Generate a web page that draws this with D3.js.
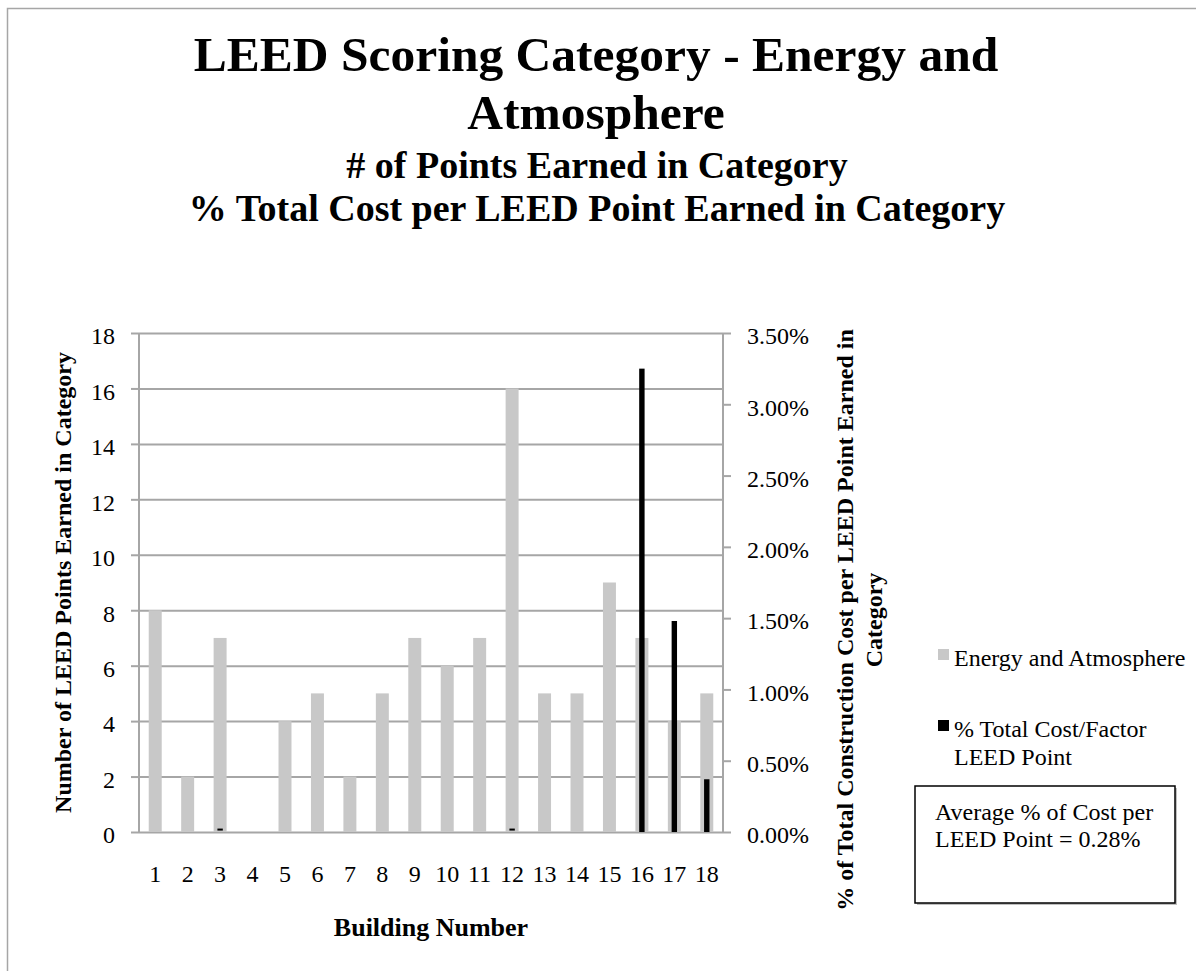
<!DOCTYPE html>
<meta charset="utf-8">

<style>
body { margin: 0; background: #fff; }
text { font-family: "Liberation Serif", "Times New Roman", serif; fill: #000; }
.grid line { stroke: #a6a6a6; stroke-width: 2px; }
.grid path { display: none; }
.axis path { display: none; }
.axis line { stroke: #a6a6a6; stroke-width: 2px; }
.axis text { font-size: 24px; }
.title { font-weight: bold; }
</style>

<body>
<svg width=1196 height=971></svg>
</body>

<script src="https://d3js.org/d3.v7.min.js"></script>
<script>
// building numbers along the x axis
const buildings = ["1","2","3","4","5","6","7","8","9","10","11","12","13","14","15","16","17","18"]
// LEED points earned in Energy and Atmosphere (left axis)
const points = [8, 2, 7, 0, 4, 5, 2, 5, 7, 6, 7, 16, 5, 5, 9, 7, 4, 5]
// % of total construction cost per LEED point (right axis)
const costPct = [0, 0, 0.0001, 0, 0, 0, 0, 0, 0, 0, 0, 0.0001, 0, 0, 0, 0.0325, 0.0148, 0.0037]
const leftTicks = [0, 2, 4, 6, 8, 10, 12, 14, 16, 18]
const rightTicks = [0, 0.005, 0.01, 0.015, 0.02, 0.025, 0.03, 0.035]
const titleLines = ["LEED Scoring Category - Energy and", "Atmosphere"]
const subtitleLines = ["# of Points Earned in Category", "% Total Cost per LEED Point Earned in Category"]
const legendItems = [["Energy and Atmosphere"], ["% Total Cost/Factor", "LEED Point"]]
const noteLines = ["Average % of Cost per", "LEED Point = 0.28%"]

const svg = d3.select("svg")
const plot = {left: 139, right: 723, top: 333, bottom: 832}

// outer chart frame
svg.append("rect")
  .attr("x", 7.5).attr("y", 8.5)
  .attr("width", 1300).attr("height", 1100)
  .attr("fill", "none").attr("stroke", "#a6a6a6").attr("stroke-width", 1.5)

const x = d3.scaleBand().domain(buildings).range([plot.left, plot.right])
const yL = d3.scaleLinear().domain([0, 18]).range([plot.bottom, plot.top])
const yR = d3.scaleLinear().domain([0, 0.035]).range([plot.bottom, plot.top])

// gridlines
svg.append("g")
  .attr("class", "grid")
  .attr("transform", `translate(${plot.left},0)`)
  .call(d3.axisLeft(yL).tickValues(leftTicks).tickSize(-(plot.right - plot.left)).tickFormat(""))

// axis lines
svg.append("line").attr("x1", plot.left).attr("x2", plot.left).attr("y1", plot.top).attr("y2", plot.bottom)
  .attr("stroke", "#a6a6a6").attr("stroke-width", 2)
svg.append("line").attr("x1", plot.right).attr("x2", plot.right).attr("y1", plot.top).attr("y2", plot.bottom)
  .attr("stroke", "#a6a6a6").attr("stroke-width", 2)

const axL = svg.append("g")
  .attr("class", "axis")
  .attr("transform", `translate(${plot.left},0)`)
  .call(d3.axisLeft(yL).tickValues(leftTicks).tickSize(8).tickPadding(16))
axL.selectAll("text").attr("dy", "0.45em")

const axR = svg.append("g")
  .attr("class", "axis")
  .attr("transform", `translate(${plot.right},0)`)
  .call(d3.axisRight(yR).tickValues(rightTicks).tickSize(8).tickPadding(16).tickFormat(d3.format(".2%")))
axR.selectAll("text").attr("dy", "0.45em")

const axB = svg.append("g")
  .attr("class", "axis")
  .attr("transform", `translate(0,${plot.bottom})`)
  .call(d3.axisBottom(x).tickSize(0).tickPadding(42))
axB.selectAll("text").attr("dy", "0.35em")

// grey bars (primary axis)
const bw = x.bandwidth()
svg.append("g").selectAll("rect")
  .data(points)
  .enter()
  .append("rect")
    .attr("x", (d, i) => x(buildings[i]) + bw / 2 - bw / 5)
    .attr("width", bw / 2.5)
    .attr("y", (d) => yL(d))
    .attr("height", (d) => yL(0) - yL(d))
    .attr("fill", "#c8c8c8")

// black bars (secondary axis)
svg.append("g").selectAll("rect")
  .data(costPct)
  .enter()
  .append("rect")
    .attr("x", (d, i) => x(buildings[i]) + bw / 2 - bw / 12)
    .attr("width", bw / 6)
    .attr("y", (d) => yR(d) - (d > 0 && d < 0.0005 ? 2 : 0))
    .attr("height", (d) => d > 0 && d < 0.0005 ? 2 : yR(0) - yR(d))
    .attr("fill", "#000")

// titles
svg.append("g").selectAll("text")
  .data(titleLines)
  .enter()
  .append("text")
    .attr("class", "title")
    .attr("x", 596)
    .attr("y", (d, i) => 71 + i * 58)
    .attr("text-anchor", "middle")
    .attr("font-size", 49.5)
    .text((d) => d)

svg.append("g").selectAll("text")
  .data(subtitleLines)
  .enter()
  .append("text")
    .attr("class", "title")
    .attr("x", 597)
    .attr("y", (d, i) => 178 + i * 43)
    .attr("text-anchor", "middle")
    .attr("font-size", 38)
    .text((d) => d)

// axis titles
svg.append("text")
  .attr("class", "title")
  .attr("transform", `translate(71,${(plot.top + plot.bottom) / 2}) rotate(-90)`)
  .attr("text-anchor", "middle")
  .attr("font-size", 24)
  .text("Number of LEED Points Earned in Category")

svg.append("text")
  .attr("class", "title")
  .attr("x", 431).attr("y", 936)
  .attr("text-anchor", "middle")
  .attr("font-size", 26)
  .text("Building Number")

const rightTitle = ["% of Total Construction Cost per LEED Point Earned in", "Category"]
svg.append("g").selectAll("text")
  .data(rightTitle)
  .enter()
  .append("text")
    .attr("class", "title")
    .attr("transform", (d, i) => `translate(${853 + i * 29},620) rotate(-90)`)
    .attr("text-anchor", "middle")
    .attr("font-size", 24)
    .text((d) => d)

// legend
const legendColors = ["#c8c8c8", "#000"]
const legendY = [649, 720]
legendItems.forEach((lines, k) => {
  svg.append("rect")
    .attr("x", 938).attr("y", legendY[k])
    .attr("width", 11).attr("height", 11)
    .attr("fill", legendColors[k])
  lines.forEach((t, j) => {
    svg.append("text")
      .attr("x", 954).attr("y", legendY[k] + 17 + j * 28)
      .attr("font-size", 24)
      .text(t)
  })
})

// note box
svg.append("rect")
  .attr("x", 917).attr("y", 788).attr("width", 260).attr("height", 117)
  .attr("fill", "#bfbfbf")
svg.append("rect")
  .attr("x", 915).attr("y", 786).attr("width", 260).attr("height", 117)
  .attr("fill", "#fff").attr("stroke", "#000").attr("stroke-width", 1.5)
svg.append("g").selectAll("text")
  .data(noteLines)
  .enter()
  .append("text")
    .attr("x", 935)
    .attr("y", (d, i) => 820 + i * 27)
    .attr("font-size", 24)
    .text((d) => d)
</script>
